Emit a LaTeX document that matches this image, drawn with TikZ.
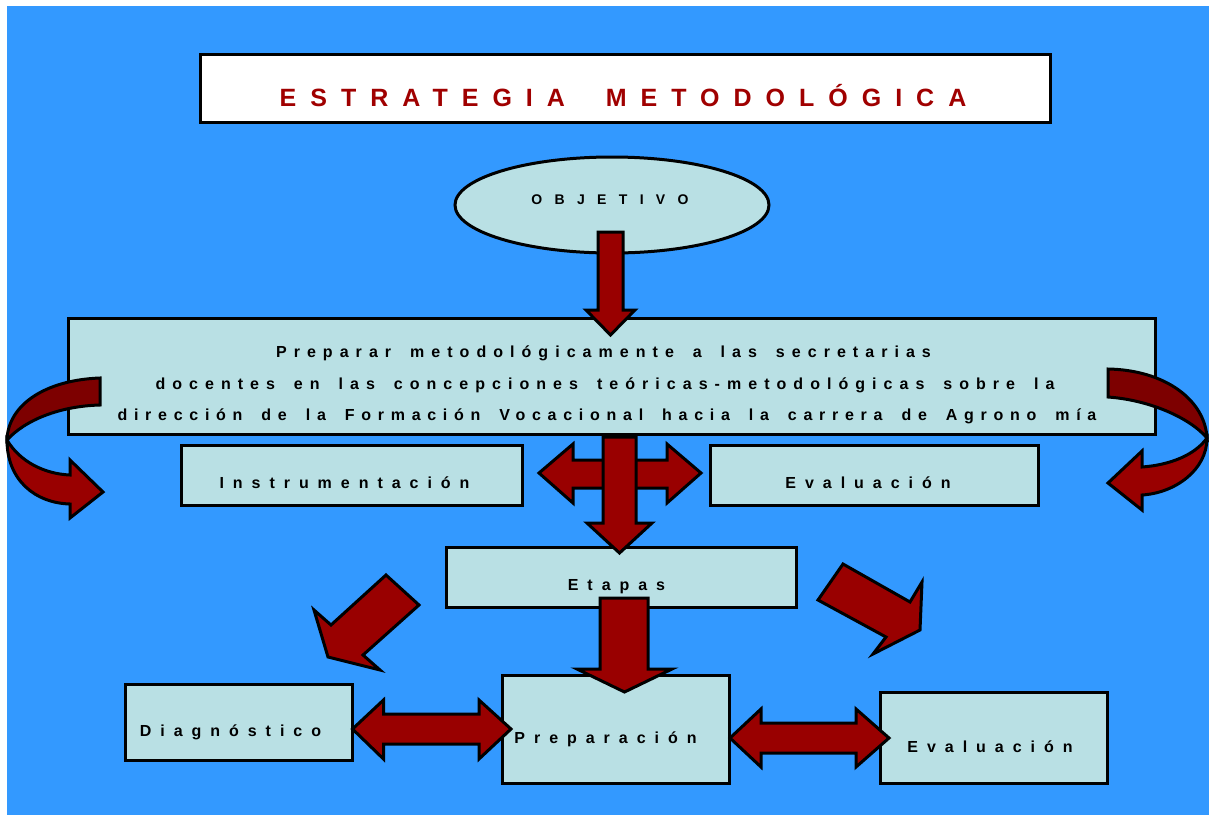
\documentclass[tikz,border=0pt]{standalone}
\usepackage{fontspec}
\setmainfont{Liberation Sans}
\newfontfamily\fuenteCaja[LetterSpace=56,WordSpace=1.95]{Liberation Sans}
\newfontfamily\fuenteLinea[LetterSpace=44,WordSpace=1.65]{Liberation Sans}
\newfontfamily\fuenteLineaB[LetterSpace=42,WordSpace=1.7]{Liberation Sans}
\newfontfamily\fuenteObj[LetterSpace=88]{Liberation Sans}
\usetikzlibrary{shapes.geometric}

\definecolor{fondo}{RGB}{51,153,255}
\definecolor{celeste}{RGB}{185,224,228}
\definecolor{rojo}{RGB}{153,0,0}
\definecolor{rojooscuro}{RGB}{125,0,0}
\definecolor{titulo}{RGB}{160,0,0}

\newcommand{\letras}[2]{#1\bfseries\fontsize{#2}{#2}\selectfont}

\begin{document}
\begin{tikzpicture}[x=1pt, y=-1pt]
                  \tikzstyle{caja}=[draw, line width=3pt, fill=celeste, text height=27pt, text depth=0pt, font=\letras{\fuenteCaja}{16}]
                  \tikzstyle{linea}=[anchor=base, inner sep=0pt, font=\letras{\fuenteLinea}{16}]
                  \tikzstyle{flecha}=[draw, line width=3pt, line join=miter, fill=rojo]

                  \useasboundingbox (0,0) rectangle (1209,815);
                  \fill[white] (0,0) rectangle (1209,815);
                  \fill[fondo] (7,6) rectangle (1209,815);

                  % titulo y objetivo
                  \node[caja, fill=white, minimum width=850, minimum height=68, text height=36pt,
                        font=\letras{\fuenteCaja}{25}, text=titulo] (titulo) at (625,88) {ESTRATEGIA METODOLÓGICA\hspace*{4pt}};
                  \node[caja, ellipse, minimum width=314, minimum height=96, text height=10pt, text depth=12pt,
                        font=\letras{\fuenteObj}{14}] (objetivo) at (612,205) {OBJETIVO\hspace*{4pt}};

                  % recuadro central
                  \node[caja, minimum width=1087, minimum height=116] (meta) at (611.5,376) {};
                  \node[linea] (linea1) at (603.5,357) {Preparar metodológicamente a las secretarias};
                  \node[linea] (linea2) at (605,389) {docentes en las concepciones teóricas-metodológicas sobre la};
                  \node[linea, font=\letras{\fuenteLineaB}{16}] (linea3) at (607,420) {dirección de la Formación Vocacional hacia la carrera de Agrono mía};

                  \node[caja, minimum width=341, minimum height=60] (instr) at (351.5,475) {Instrumentación\hspace*{14pt}};
                  \node[caja, minimum width=328, minimum height=60] (evalA) at (874,475) {Evaluación\hspace*{12pt}};
                  \node[caja, minimum width=350, minimum height=60] (etapas) at (621,577) {Etapas\hspace*{9pt}};

                  \node[caja, minimum width=227, minimum height=76, text height=29pt] (diag) at (238.5,722) {Diagnóstico\hspace*{16pt}};
                  \node[caja, minimum width=227, minimum height=108, text height=28pt] (prepa) at (615.5,729) {Preparación\hspace*{20pt}};
                  \node[caja, minimum width=227, minimum height=91, text height=29pt] (evalB) at (993.5,737.5) {Evaluación\hspace*{7pt}};

                  % flechas rectas
                  \draw[flecha] (598,232) -- (623,232) -- (623,310) -- (635,310) -- (610.5,335) -- (586,310) -- (598,310) -- cycle;
                  \draw[flecha] (539,473) -- (573,444) -- (573,460) -- (667,460) -- (667,444) -- (701,473)
                                -- (667,503) -- (667,488) -- (573,488) -- (573,503) -- cycle;
                  \draw[flecha] (603,437) -- (636,437) -- (636,523) -- (652,523) -- (619.5,553) -- (587,523) -- (603,523) -- cycle;
                  \draw[flecha] (600,598) -- (648,598) -- (648,669) -- (672,669) -- (624.5,692) -- (577,669) -- (600,669) -- cycle;
                  \draw[flecha] (386,575) -- (419,605) -- (363,655) -- (380,670) -- (328,657) -- (314,610) -- (331,625) -- cycle;
                  \draw[flecha] (843,564) -- (910,602) -- (922,582) -- (920,630) -- (873,654) -- (886,637) -- (818,600) -- cycle;
                  \draw[flecha] (352.5,729) -- (383.5,700) -- (383.5,714) -- (479,714) -- (479,700) -- (511,729)
                                -- (479,759) -- (479,744) -- (383.5,744) -- (383.5,759) -- cycle;
                  \draw[flecha] (730,738) -- (761,709) -- (761,723) -- (856,723) -- (856,709) -- (889,738)
                                -- (856,767) -- (856,753) -- (761,753) -- (761,767) -- cycle;

                  % flechas curvas
                  \draw[flecha, fill=rojooscuro] (100,378) .. controls (45,380) and (8,405) .. (7,440)
                                .. controls (25,420) and (60,406) .. (100,405) -- cycle;
                  \draw[flecha] (7,440) .. controls (20,462) and (45,474) .. (70,475) -- (70,460) -- (103,492)
                                -- (70,518) -- (70,504) .. controls (35,503) and (7,480) .. (7,440) -- cycle;
                  \draw[flecha, fill=rojooscuro] (1108,369) .. controls (1165,370) and (1205,400) .. (1207,438)
                                .. controls (1190,418) and (1150,400) .. (1108,397) -- cycle;
                  \draw[flecha] (1207,438) .. controls (1207,470) and (1175,493) .. (1142,495) -- (1142,510)
                                -- (1108,483) -- (1142,451) -- (1142,467) .. controls (1170,465) and (1195,455) .. (1207,438) -- cycle;
                \end{tikzpicture}
\end{document}
